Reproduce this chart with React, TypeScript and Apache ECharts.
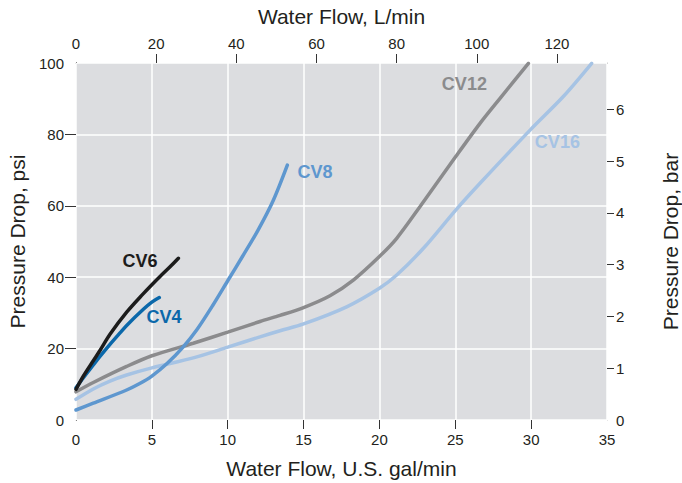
import React, { useEffect, useRef } from "react";
import * as echarts from "echarts";

// Flow in U.S. gal/min vs pressure drop in psi
const cv6: number[][] = [
  [0, 8.6], [0.5, 12.4], [1.14, 16.6], [1.6, 19.6], [2.24, 24.0], [3.34, 30.2],
  [4.44, 35.4], [5.0, 37.9], [5.54, 40.2], [6.2, 42.9], [6.75, 45.3],
];
const cv4: number[][] = [
  [0, 9.0], [0.5, 11.9], [1.14, 15.4], [1.58, 17.8], [2.24, 21.2], [2.9, 24.4],
  [3.34, 26.5], [4.44, 31.0], [5.0, 33.0], [5.49, 34.3],
];
const cv8: number[][] = [
  [0, 2.8], [1.14, 4.7], [3.34, 8.4], [4.2, 10.2], [5.0, 12.3], [6.0, 15.8],
  [7.07, 20.5], [8.0, 25.5], [9.0, 32.0], [10.0, 39.0], [11.0, 46.0],
  [12.0, 53.2], [13.0, 61.5], [13.93, 71.4],
];
const cv12: number[][] = [
  [0, 7.9], [1.14, 10.5], [3.34, 15.0], [5.0, 18.0], [7.73, 21.5],
  [10.0, 24.6], [12.13, 27.6], [13.45, 29.3], [15.0, 31.5], [16.74, 34.8],
  [18.28, 39.2], [20.0, 45.8], [21.14, 50.9], [22.68, 59.8], [25.03, 73.8],
  [26.63, 83.1], [27.95, 90.1], [29.82, 99.9],
];
const cv16: number[][] = [
  [0, 5.8], [1.14, 8.7], [2.24, 10.9], [3.34, 12.6], [5.0, 14.6], [7.73, 17.4],
  [10.0, 20.4], [12.13, 23.3], [13.45, 25.0], [15.0, 26.9], [17.84, 31.7],
  [20.0, 36.9], [21.14, 40.6], [22.9, 48.1], [25.03, 58.8], [26.63, 66.3],
  [29.93, 81.2], [32.12, 90.6], [33.99, 99.9],
];

const seriesNames = ["CV16", "CV12", "CV8", "CV4", "CV6"];
const seriesData = [cv16, cv12, cv8, cv4, cv6];
const seriesColors = ["#a6c3e4", "#8b8b8d", "#5e97cf", "#0b68aa", "#1c1c1c"];
// label anchor points in data coordinates (gal/min, psi)
const labelCoords: number[][] = [
  [31.73, 78.0], [25.6, 94.1], [15.75, 69.4], [5.8, 28.9], [4.22, 44.6],
];

const gpmLabels = [0, 5, 10, 15, 20, 25, 30, 35];
const lpmLabels = [0, 20, 40, 60, 80, 100, 120];
const psiLabels = [0, 20, 40, 60, 80, 100];
const barLabels = [0, 1, 2, 3, 4, 5, 6];

const GPM_MAX = 35;
const LPM_MAX = GPM_MAX * 3.78541;
const PSI_MAX = 100;
const BAR_MAX = PSI_MAX * 0.0689476;

const FONT = "Liberation Sans, Arial, sans-serif";
const TXT = "#231f20";

// white masks that hide the axis ticks sitting on the plot's corners
const cornerMasks = [
  { x: 71, y: 420.6, width: 10, height: 10 },
  { x: 64.5, y: 415, width: 11.4, height: 10 },
  { x: 71, y: 52, width: 10, height: 10.4 },
  { x: 64.5, y: 58, width: 11.4, height: 10 },
  { x: 602, y: 52, width: 10, height: 10.4 },
  { x: 607.2, y: 58, width: 9, height: 10 },
  { x: 602, y: 420.6, width: 10, height: 10 },
  { x: 607.2, y: 415, width: 8.5, height: 10 },
];

export default function App() {
  const ref = useRef<HTMLDivElement>(null);
  useEffect(() => {
    if (!ref.current) return;
    const chart = echarts.init(ref.current, undefined, { renderer: "svg" });
    const tickStyle = { color: "#333", width: 1 };
    const hiddenLine = { show: false, onZero: false };
    const option: any = {
      animation: false,
      backgroundColor: "#ffffff",
      textStyle: { fontFamily: FONT },
      grid: {
        left: 76, right: 75, top: 63, bottom: 63,
        show: true, backgroundColor: "#dcdde0", borderWidth: 0,
        containLabel: false, outerBoundsMode: "none",
      },
      graphic: cornerMasks.map((r) => ({
        type: "rect", z: 100, silent: true, shape: r, style: { fill: "#ffffff" },
      })),
      xAxis: [
        {
          type: "value", position: "bottom", min: 0, max: GPM_MAX, interval: 5,
          axisLine: hiddenLine,
          axisTick: { show: true, length: 9, lineStyle: tickStyle },
          axisLabel: { customValues: gpmLabels, fontSize: 15, color: TXT, margin: 12, fontFamily: FONT },
          splitLine: { show: true, lineStyle: { color: "#ffffff", width: 1.5 } },
          name: "Water Flow, U.S. gal/min", nameLocation: "middle", nameGap: 38,
          nameTextStyle: { fontSize: 21, color: TXT, fontFamily: FONT },
        },
        {
          type: "value", position: "top", min: 0, max: LPM_MAX, interval: 20,
          axisLine: hiddenLine,
          axisTick: { show: true, length: 9, lineStyle: tickStyle },
          axisLabel: { customValues: lpmLabels, fontSize: 15, color: TXT, margin: 12, fontFamily: FONT },
          splitLine: { show: false },
          name: "Water Flow, L/min", nameLocation: "middle", nameGap: 36,
          nameTextStyle: { fontSize: 21, color: TXT, fontFamily: FONT },
        },
      ],
      yAxis: [
        {
          type: "value", position: "left", min: 0, max: PSI_MAX, interval: 20,
          axisLine: hiddenLine,
          axisTick: { show: true, length: 11, lineStyle: tickStyle },
          axisLabel: { customValues: psiLabels, fontSize: 15, color: TXT, margin: 12, fontFamily: FONT },
          splitLine: { show: true, lineStyle: { color: "#ffffff", width: 1.5 } },
          name: "Pressure Drop, psi", nameLocation: "middle", nameGap: 47, nameRotate: 90,
          nameTextStyle: { fontSize: 21, color: TXT, fontFamily: FONT },
        },
        {
          type: "value", position: "right", min: 0, max: BAR_MAX, interval: 1,
          axisLine: hiddenLine,
          axisTick: { show: true, length: 7, lineStyle: tickStyle },
          axisLabel: { customValues: barLabels, fontSize: 15, color: TXT, margin: 9, fontFamily: FONT },
          splitLine: { show: false },
          name: "Pressure Drop, bar", nameLocation: "middle", nameGap: 53, nameRotate: 90,
          nameTextStyle: { fontSize: 21, color: TXT, fontFamily: FONT },
        },
      ],
      series: seriesNames.map((name, i) => ({
        name,
        type: "line",
        xAxisIndex: 0,
        yAxisIndex: 0,
        data: seriesData[i],
        smooth: 0.3,
        showSymbol: false,
        symbol: "none",
        lineStyle: { color: seriesColors[i], width: 3.5, cap: "round" },
        itemStyle: { color: seriesColors[i] },
        markPoint: {
          silent: true,
          symbol: "circle",
          symbolSize: 0,
          data: [{ coord: labelCoords[i], value: name }],
          label: {
            show: true, position: "inside", formatter: name,
            color: seriesColors[i], fontSize: 18, fontWeight: "bold", fontFamily: FONT,
          },
        },
      })),
    };
    chart.setOption(option);
    return () => chart.dispose();
  }, []);
  return (
    <div
      ref={ref}
      style={{ position: "fixed", left: 0, top: 0, width: 682, height: 483 }}
    />
  );
}
